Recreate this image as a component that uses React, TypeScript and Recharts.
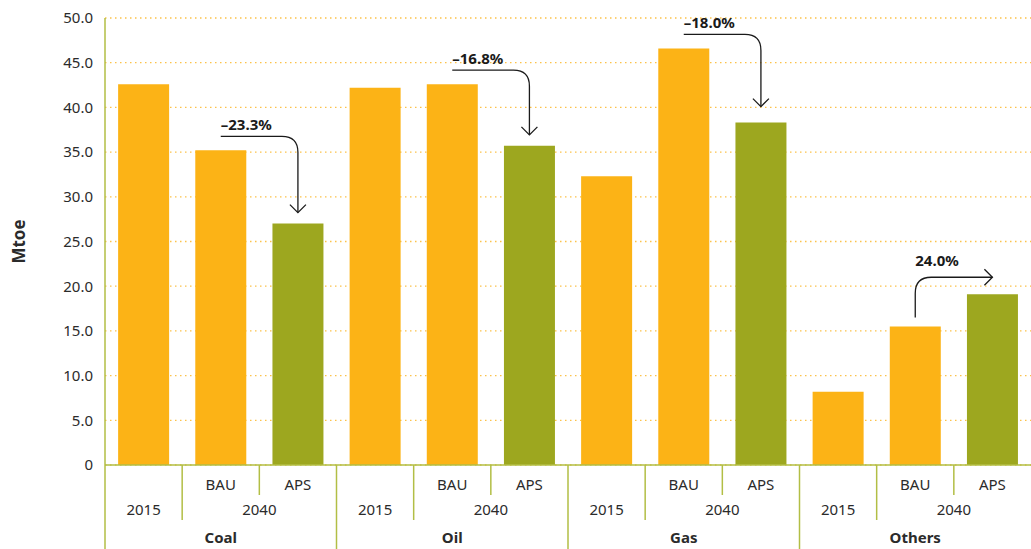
import React from 'react';
import { BarChart, Bar, XAxis, YAxis, CartesianGrid, Cell, ReferenceLine } from 'recharts';

const groups = ['Coal', 'Oil', 'Gas', 'Others'];
const scenarios = ['2015', 'BAU', 'APS'];

// Mtoe, in order 2015 / 2040 BAU / 2040 APS
const coal = [42.6, 35.2, 27.0];
const oil = [42.2, 42.6, 35.7];
const gas = [32.3, 46.6, 38.3];
const others = [8.2, 15.5, 19.1];

const changeLabels = ['\u201323.3%', '\u201316.8%', '\u201318.0%', '24.0%'];
const yTicks = [0, 5, 10, 15, 20, 25, 30, 35, 40, 45, 50];

const ORANGE = '#FCB316';
const GREEN = '#9DA71F';
const OLIVE = '#B2BE45';
const GRID = '#FCC24A';
const TEXT = '#2b2b2b';
const FONT = '"Noto Sans", "Open Sans", sans-serif';

const seriesByGroup = [coal, oil, gas, others];

const data = groups.flatMap((g, gi) =>
  scenarios.map((s, si) => ({
    key: `${g}|${s}`,
    group: g,
    scenario: s,
    value: seriesByGroup[gi][si],
  }))
);

function MultiTick(props: any) {
  const { x, y, payload } = props;
  const half = payload?.offset ?? 38.6;
  const [group, scen] = String(payload.value).split('|');
  const idx = scenarios.indexOf(scen);
  const left = x - half;
  const sepLen = idx === 0 ? 84 : idx === 1 ? 55 : 30;
  const txt = { fill: TEXT, fontSize: 15, fontFamily: FONT, textAnchor: 'middle' as const };
  return (
    <g>
      <line x1={left} x2={left} y1={y} y2={y + sepLen} stroke={OLIVE} strokeWidth={1.5} />
      {idx > 0 && <text x={x} y={y + 25} {...txt}>{scen}</text>}
      {idx === 0 && <text x={x} y={y + 50} {...txt}>2015</text>}
      {idx === 1 && <text x={x + half} y={y + 50} {...txt}>2040</text>}
      {idx === 1 && (
        <text x={x} y={y + 78} {...txt} fontWeight={700}>{group}</text>
      )}
    </g>
  );
}

function AxisTitle(props: any) {
  const vb = props.viewBox || { x: 0, y: 18, height: 447 };
  const cx = vb.x + 18;
  const cy = vb.y + vb.height / 2;
  return (
    <text
      x={cx}
      y={cy}
      transform={`rotate(-90 ${cx} ${cy})`}
      textAnchor="middle"
      dominantBaseline="central"
      fill={TEXT}
      fontSize={17}
      fontWeight={700}
      fontFamily={FONT}
    >
      Mtoe
    </text>
  );
}

// arrow from BAU bar to APS bar; pixel gaps are drawing style only
const arrowShape = (label: string, kind: 'down' | 'right', tipGap: number) => (p: any) => {
  const { x1, y1, x2, y2 } = p;
  const r = 16;
  let d = '';
  let head = '';
  let tx = x1;
  let ty = 0;
  if (kind === 'down') {
    const ly = y1 - 14;
    const tipY = y2 - tipGap;
    d = `M${x1},${ly} H${x2 - r} Q${x2},${ly} ${x2},${ly + r} V${tipY}`;
    head = `M${x2 - 8},${tipY - 8} L${x2},${tipY} L${x2 + 8},${tipY - 8}`;
    ty = ly - 6;
  } else {
    const sy = y1 - 9;
    const ly = y2 - tipGap;
    d = `M${x1},${sy} V${ly + r} Q${x1},${ly} ${x1 + r},${ly} H${x2}`;
    head = `M${x2 - 8},${ly - 8} L${x2},${ly} L${x2 - 8},${ly + 8}`;
    ty = ly - 11;
  }
  return (
    <g>
      <path d={d} fill="none" stroke="#1a1a1a" strokeWidth={1.3} />
      <path d={head} fill="none" stroke="#1a1a1a" strokeWidth={1.3} />
      <text x={tx} y={ty} fill="#1a1a1a" fontSize={15} fontWeight={700} fontFamily={FONT}>
        {label}
      </text>
    </g>
  );
};

const annotations = groups.map((g, gi) => ({
  from: `${g}|BAU`,
  to: `${g}|APS`,
  fromVal: seriesByGroup[gi][1],
  toVal: seriesByGroup[gi][2],
  label: changeLabels[gi],
  kind: (gi === 3 ? 'right' : 'down') as 'down' | 'right',
  gap: gi === 3 ? 17 : gi === 2 ? 16 : 11,
}));

export default function App() {
  return (
    <div style={{ position: 'absolute', left: 0, top: 0, background: '#fff' }}>
      <BarChart
        width={1031}
        height={549}
        data={data}
        margin={{ top: 18, right: 0, bottom: 0, left: 0 }}
        barCategoryGap="17%"
        style={{ fontFamily: FONT }}
      >
        <CartesianGrid
          vertical={false}
          stroke={GRID}
          strokeWidth={1.3}
          strokeDasharray="1.5 3.5"
        />
        <XAxis
          dataKey="key"
          interval={0}
          tickLine={false}
          tickSize={0}
          tickMargin={0}
          height={84}
          axisLine={{ stroke: OLIVE, strokeWidth: 1.5 }}
          tick={<MultiTick />}
        />
        <YAxis
          width={105}
          domain={[0, 50]}
          ticks={yTicks}
          interval={0}
          tickLine={false}
          tickSize={0}
          tickMargin={12}
          axisLine={{ stroke: OLIVE, strokeWidth: 1.5 }}
          tick={{ fill: TEXT, fontSize: 15, fontFamily: FONT }}
          tickFormatter={(v: number) => (v === 0 ? '0' : v.toFixed(1))}
          label={<AxisTitle />}
        />
        <Bar dataKey="value" isAnimationActive={false}>
          {data.map((d) => (
            <Cell key={d.key} fill={d.scenario === 'APS' ? GREEN : ORANGE} />
          ))}
        </Bar>
        {annotations.map((a) => (
          <ReferenceLine
            key={a.from}
            ifOverflow="visible"
            segment={[
              { x: a.from, y: a.fromVal },
              { x: a.to, y: a.toVal },
            ]}
            shape={arrowShape(a.label, a.kind, a.gap)}
          />
        ))}
      </BarChart>
    </div>
  );
}
